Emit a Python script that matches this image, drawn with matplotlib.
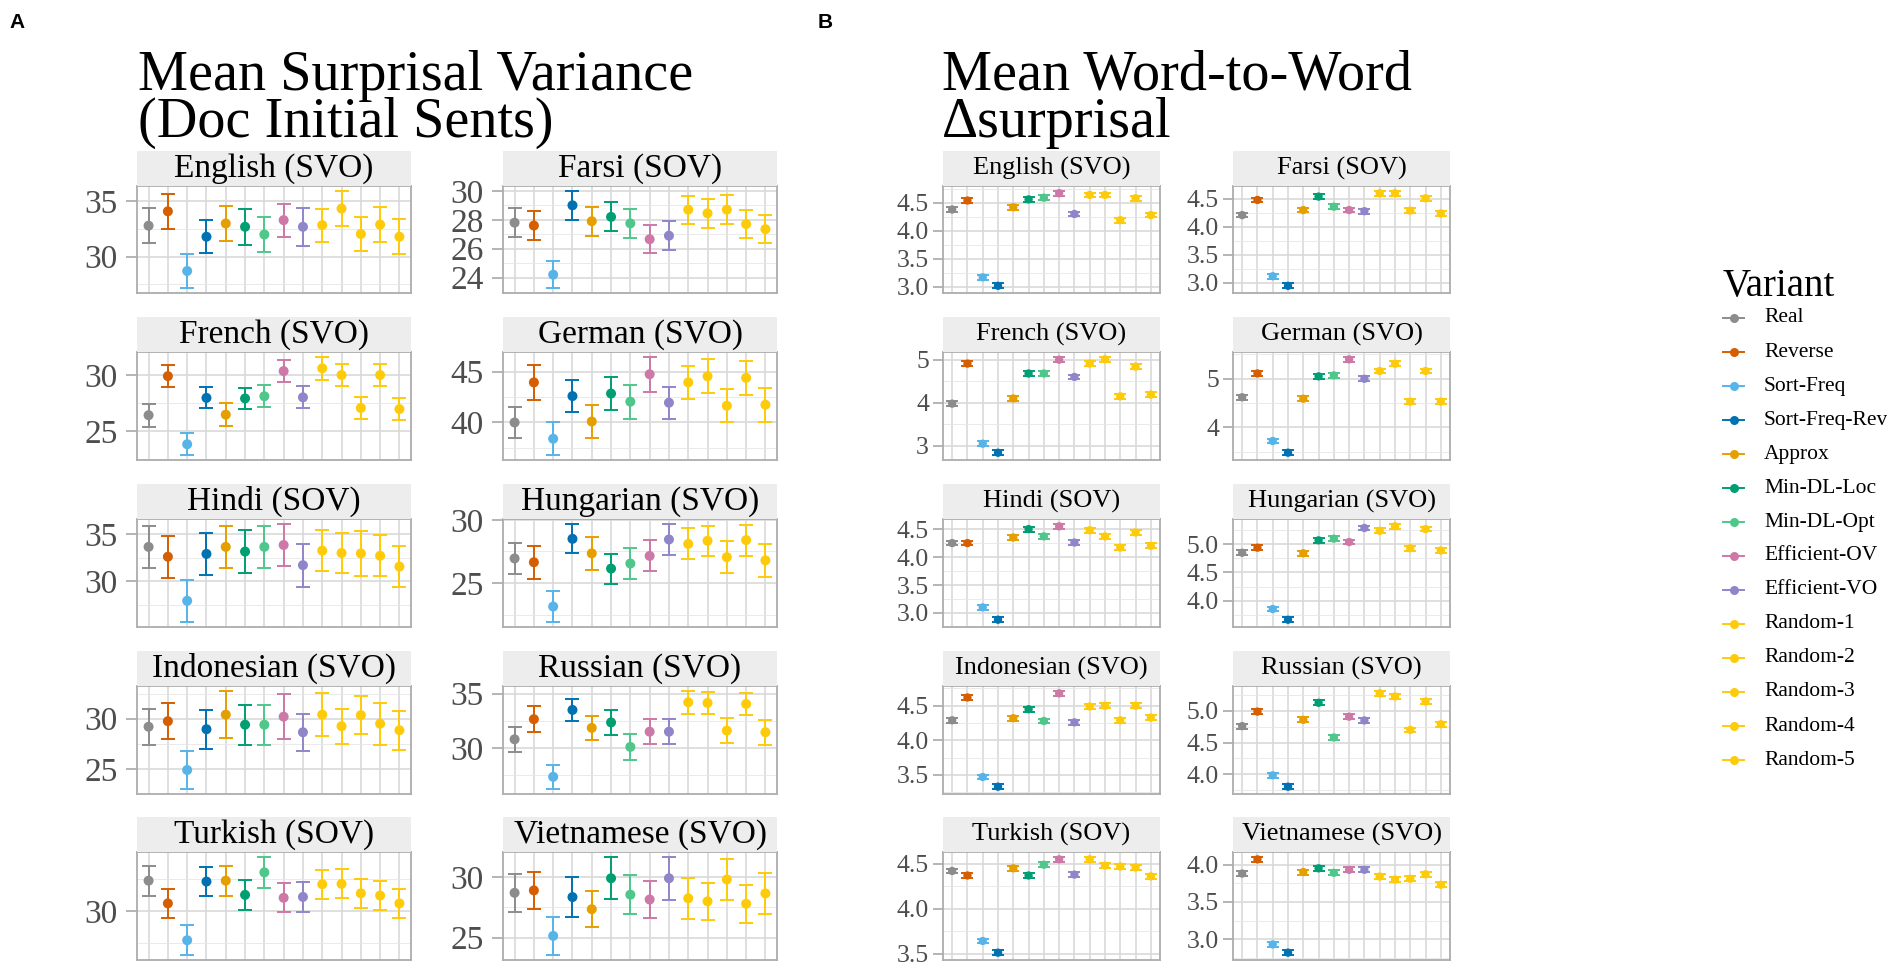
import matplotlib
matplotlib.use("Agg")
import matplotlib.pyplot as plt
from matplotlib.lines import Line2D
from matplotlib.patches import Rectangle
import numpy as np

W, H, DPI = 1887, 972, 100
plt.rcParams['font.family'] = ['Liberation Serif', 'DejaVu Serif']

variants = ["Real", "Reverse", "Sort-Freq", "Sort-Freq-Rev", "Approx", "Min-DL-Loc",
            "Min-DL-Opt", "Efficient-OV", "Efficient-VO", "Random-1", "Random-2",
            "Random-3", "Random-4", "Random-5"]
colors = ["#8C8C8C", "#D55E00", "#56B4E9", "#0072B2", "#E69F00", "#009E73",
          "#4FC68A", "#CC79A7", "#8F86C9", "#FDCB0A", "#FDCB0A", "#FDCB0A",
          "#FDCB0A", "#FDCB0A"]
languages = ["English (SVO)", "Farsi (SOV)", "French (SVO)", "German (SVO)",
             "Hindi (SOV)", "Hungarian (SVO)", "Indonesian (SVO)", "Russian (SVO)",
             "Turkish (SOV)", "Vietnamese (SVO)"]

# ---------------- Panel A: mean surprisal variance ----------------
a_english = [32.8, 34.1, 28.7, 31.8, 33.0, 32.7, 32.0, 33.3, 32.7, 32.85, 34.35, 32.05, 32.9, 31.8]
a_english_err = [1.6, 1.6, 1.55, 1.5, 1.6, 1.65, 1.6, 1.5, 1.7, 1.5, 1.6, 1.55, 1.6, 1.6]
a_farsi = [27.8, 27.6, 24.2, 29.0, 27.9, 28.2, 27.75, 26.65, 26.9, 28.7, 28.45, 28.7, 27.7, 27.35]
a_farsi_err = [1.0, 1.0, 0.93, 1.0, 1.0, 1.0, 1.0, 0.96, 1.0, 0.96, 1.0, 1.0, 0.97, 0.97]
a_french = [26.4, 29.9, 23.8, 27.95, 26.45, 27.9, 28.1, 30.35, 28.0, 30.6, 30.0, 27.05, 30.0, 26.95]
a_french_err = [1.04, 1.0, 0.97, 0.94, 1.02, 0.94, 1.0, 0.98, 0.98, 1.02, 0.98, 0.98, 1.02, 0.98]
a_german = [40.0, 43.95, 38.4, 42.6, 40.1, 42.85, 42.05, 44.75, 41.95, 43.95, 44.55, 41.65, 44.4, 41.75]
a_german_err = [1.53, 1.73, 1.61, 1.56, 1.66, 1.65, 1.66, 1.71, 1.56, 1.61, 1.69, 1.65, 1.66, 1.68]
a_hindi = [33.65, 32.6, 27.9, 32.9, 33.65, 33.15, 33.65, 33.85, 31.7, 33.25, 33.0, 32.95, 32.7, 31.55]
a_hindi_err = [2.2, 2.25, 2.27, 2.27, 2.2, 2.27, 2.2, 2.25, 2.3, 2.2, 2.13, 2.36, 2.2, 2.2]
a_hungarian = [26.95, 26.65, 23.15, 28.5, 27.35, 26.15, 26.55, 27.15, 28.45, 28.1, 28.35, 27.05, 28.4, 26.8]
a_hungarian_err = [1.22, 1.3, 1.23, 1.15, 1.3, 1.18, 1.22, 1.22, 1.23, 1.23, 1.19, 1.26, 1.22, 1.32]
a_indonesian = [29.2, 29.75, 24.9, 28.95, 30.4, 29.4, 29.4, 30.2, 28.65, 30.4, 29.25, 30.35, 29.5, 28.85]
a_indonesian_err = [1.8, 1.82, 1.9, 1.92, 2.36, 1.98, 1.98, 2.26, 1.84, 2.16, 1.76, 1.9, 2.08, 1.95]
a_russian = [30.8, 32.65, 27.35, 33.5, 31.85, 32.35, 30.1, 31.5, 31.5, 34.2, 34.15, 31.6, 34.05, 31.45]
a_russian_err = [1.17, 1.2, 1.13, 1.05, 1.1, 1.12, 1.17, 1.17, 1.15, 1.05, 1.03, 1.18, 1.05, 1.15]
a_turkish = [32.38, 30.59, 27.69, 32.31, 32.38, 31.26, 33.03, 31.03, 31.10, 32.10, 32.13, 31.38, 31.21, 30.59]
a_turkish_err = [1.17, 1.15, 1.17, 1.14, 1.17, 1.17, 1.22, 1.13, 1.19, 1.15, 1.14, 1.14, 1.13, 1.14]
a_vietnamese = [28.7, 28.9, 25.15, 28.35, 27.35, 29.9, 28.55, 28.15, 29.9, 28.25, 28.0, 29.8, 27.8, 28.65]
a_vietnamese_err = [1.54, 1.54, 1.58, 1.68, 1.47, 1.72, 1.59, 1.54, 1.76, 1.68, 1.54, 1.71, 1.56, 1.68]

a_ticks = [[30, 35], [24, 26, 28, 30], [25, 30], [40, 45], [30, 35],
           [25, 30], [25, 30], [30, 35], [30], [25, 30]]
a_tick_step = [5, 2, 5, 5, 5, 5, 5, 5, 5, 5]

# ---------------- Panel B: mean word-to-word delta surprisal ----------------
b_english = [4.38, 4.54, 3.17, 3.02, 4.42, 4.56, 4.59, 4.67, 4.30, 4.64, 4.64, 4.19, 4.58, 4.28]
b_farsi = [4.21, 4.48, 3.12, 2.95, 4.30, 4.54, 4.36, 4.30, 4.28, 4.60, 4.60, 4.29, 4.51, 4.24]
b_french = [3.98, 4.91, 3.05, 2.84, 4.10, 4.68, 4.68, 5.00, 4.60, 4.91, 5.01, 4.15, 4.84, 4.19]
b_german = [4.62, 5.11, 3.72, 3.48, 4.59, 5.05, 5.07, 5.40, 5.00, 5.16, 5.31, 4.53, 5.16, 4.53]
b_hindi = [4.25, 4.25, 3.10, 2.88, 4.35, 4.50, 4.37, 4.55, 4.26, 4.48, 4.37, 4.17, 4.44, 4.20]
b_hungarian = [4.85, 4.94, 3.85, 3.66, 4.84, 5.07, 5.10, 5.04, 5.29, 5.24, 5.32, 4.93, 5.27, 4.89]
b_indonesian = [4.29, 4.62, 3.47, 3.33, 4.32, 4.45, 4.28, 4.68, 4.26, 4.49, 4.50, 4.29, 4.50, 4.33]
b_russian = [4.76, 4.99, 3.98, 3.80, 4.86, 5.13, 4.58, 4.91, 4.85, 5.28, 5.23, 4.70, 5.15, 4.79]
b_turkish = [4.42, 4.37, 3.64, 3.51, 4.45, 4.37, 4.49, 4.55, 4.38, 4.55, 4.48, 4.47, 4.46, 4.36]
b_vietnamese = [3.88, 4.07, 2.93, 2.82, 3.90, 3.95, 3.89, 3.93, 3.93, 3.84, 3.80, 3.81, 3.87, 3.73]
b_err = [0.042, 0.042, 0.055, 0.05, 0.043, 0.042, 0.035, 0.038, 0.027, 0.033]

b_ticks = [[3.0, 3.5, 4.0, 4.5], [3.0, 3.5, 4.0, 4.5], [3, 4, 5], [4, 5],
           [3.0, 3.5, 4.0, 4.5], [4.0, 4.5, 5.0], [3.5, 4.0, 4.5], [4.0, 4.5, 5.0],
           [3.5, 4.0, 4.5], [3.0, 3.5, 4.0]]
b_tick_labels = [["3.0", "3.5", "4.0", "4.5"], ["3.0", "3.5", "4.0", "4.5"], ["3", "4", "5"],
                 ["4", "5"], ["3.0", "3.5", "4.0", "4.5"], ["4.0", "4.5", "5.0"],
                 ["3.5", "4.0", "4.5"], ["4.0", "4.5", "5.0"], ["3.5", "4.0", "4.5"],
                 ["3.0", "3.5", "4.0"]]
b_tick_step = [0.5, 0.5, 1, 1, 0.5, 0.5, 0.5, 0.5, 0.5, 0.5]

a_means = [a_english, a_farsi, a_french, a_german, a_hindi, a_hungarian,
           a_indonesian, a_russian, a_turkish, a_vietnamese]
a_errs = [a_english_err, a_farsi_err, a_french_err, a_german_err, a_hindi_err,
          a_hungarian_err, a_indonesian_err, a_russian_err, a_turkish_err, a_vietnamese_err]
b_means = [b_english, b_farsi, b_french, b_german, b_hindi, b_hungarian,
           b_indonesian, b_russian, b_turkish, b_vietnamese]

# ---------------- layout (pixels) ----------------
cols_A = [(137, 411), (503, 777)]
cols_B = [(943, 1160), (1233, 1450)]
rows = [(186, 293), (352, 460), (519, 627), (686, 794), (852, 960)]
STRIP_H = 35

fig = plt.figure(figsize=(W / DPI, H / DPI), dpi=DPI)
fig.patch.set_facecolor("white")

GRID = "#D9D9D9"
BORDER = "#ADADAD"
TICKC = "#A0A0A0"
LABC = "#4D4D4D"


def facet(idx, cols, means, errs, ticks, tick_labels, step, tsize, ssize,
          msize, capsize, tlen, tpad):
    r, c = idx // 2, idx % 2
    x0, x1 = cols[c]
    y0, y1 = rows[r]
    ax = fig.add_axes([x0 / W, 1 - y1 / H, (x1 - x0) / W, (y1 - y0) / H])
    x = np.arange(1, len(variants) + 1)
    m = np.asarray(means, float)
    e = np.asarray(errs, float)
    for xi, mi, ei, col in zip(x, m, e, colors):
        ax.errorbar([xi], [mi], yerr=[ei], fmt='none', ecolor=col, elinewidth=1.4,
                    capsize=capsize, capthick=1.4, zorder=3)
    ax.scatter(x, m, s=msize ** 2, c=colors, zorder=4, linewidths=0)
    lo, hi = (m - e).min(), (m + e).max()
    pad = (hi - lo) * 0.05
    ax.set_xlim(0.4, len(variants) + 0.6)
    ax.set_xticks(x)
    ax.tick_params(axis='x', length=0, labelbottom=False)
    ax.set_yticks(ticks)
    ax.set_yticklabels(tick_labels, fontsize=tsize, color=LABC)
    minors = [ticks[0] - step * 1.5 + k * step for k in range(len(ticks) + 3)]
    ax.set_yticks(minors, minor=True)
    ax.set_ylim(lo - pad, hi + pad)
    ax.tick_params(axis='y', which='major', length=tlen, width=1.1, color=TICKC, pad=tpad)
    ax.tick_params(axis='y', which='minor', length=0)
    ax.grid(True, which='major', color=GRID, linewidth=1.2, zorder=0)
    ax.grid(True, which='minor', axis='y', color="#E6E6E6", linewidth=0.6, zorder=0)
    ax.set_axisbelow(True)
    for s in ax.spines.values():
        s.set_color(BORDER)
        s.set_linewidth(1.3)
    # strip
    fig.add_artist(Rectangle((x0 / W, 1 - y0 / H), (x1 - x0) / W, STRIP_H / H,
                             transform=fig.transFigure, facecolor="#EDEDED",
                             edgecolor="none", zorder=1))
    fig.text((x0 + x1) / 2 / W, 1 - (y0 - STRIP_H / 2) / H, languages[idx],
             ha='center', va='center', fontsize=ssize, color="black")
    return ax


for i in range(10):
    facet(i, cols_A, a_means[i], a_errs[i], a_ticks[i], [f"{t:g}" for t in a_ticks[i]],
          a_tick_step[i], 24, 24, 7.2, 5, 8, 6)
    facet(i, cols_B, b_means[i], [b_err[i]] * len(variants), b_ticks[i], b_tick_labels[i],
          b_tick_step[i], 18.5, 19, 6.0, 4.5, 7, 3)

# titles
TS = 40.5
fig.text(138 / W, 1 - 76 / H, "Mean Surprisal Variance", fontsize=TS, ha='left', va='center')
fig.text(138 / W, 1 - 123 / H, "(Doc Initial Sents)", fontsize=TS, ha='left', va='center')
fig.text(942 / W, 1 - 76 / H, "Mean Word-to-Word", fontsize=TS, ha='left', va='center')
fig.text(942 / W, 1 - 123 / H, "\u0394surprisal", fontsize=TS, ha='left', va='center')
fig.text(9 / W, 1 - 22 / H, "A", fontsize=15, fontweight='bold', family='Liberation Sans',
         ha='left', va='center')
fig.text(818 / W, 1 - 22 / H, "B", fontsize=15, fontweight='bold', family='Liberation Sans',
         ha='left', va='center')

# legend
fig.text(1723 / W, 1 - 286 / H, "Variant", fontsize=28, ha='left', va='center')
for k, (name, col) in enumerate(zip(variants, colors)):
    yy = 1 - (318 + 34 * k) / H
    fig.add_artist(Line2D([1723 / W, 1744 / W], [yy, yy], transform=fig.transFigure,
                          color=col, linewidth=1.4))
    fig.add_artist(Line2D([1733.5 / W], [yy], transform=fig.transFigure, color=col,
                          marker='o', markersize=6.5, markeredgewidth=0, linestyle='none'))
    fig.text(1764 / W, yy, name, fontsize=15.5, ha='left', va='center')

fig.savefig("out.png", dpi=DPI, facecolor="white")
